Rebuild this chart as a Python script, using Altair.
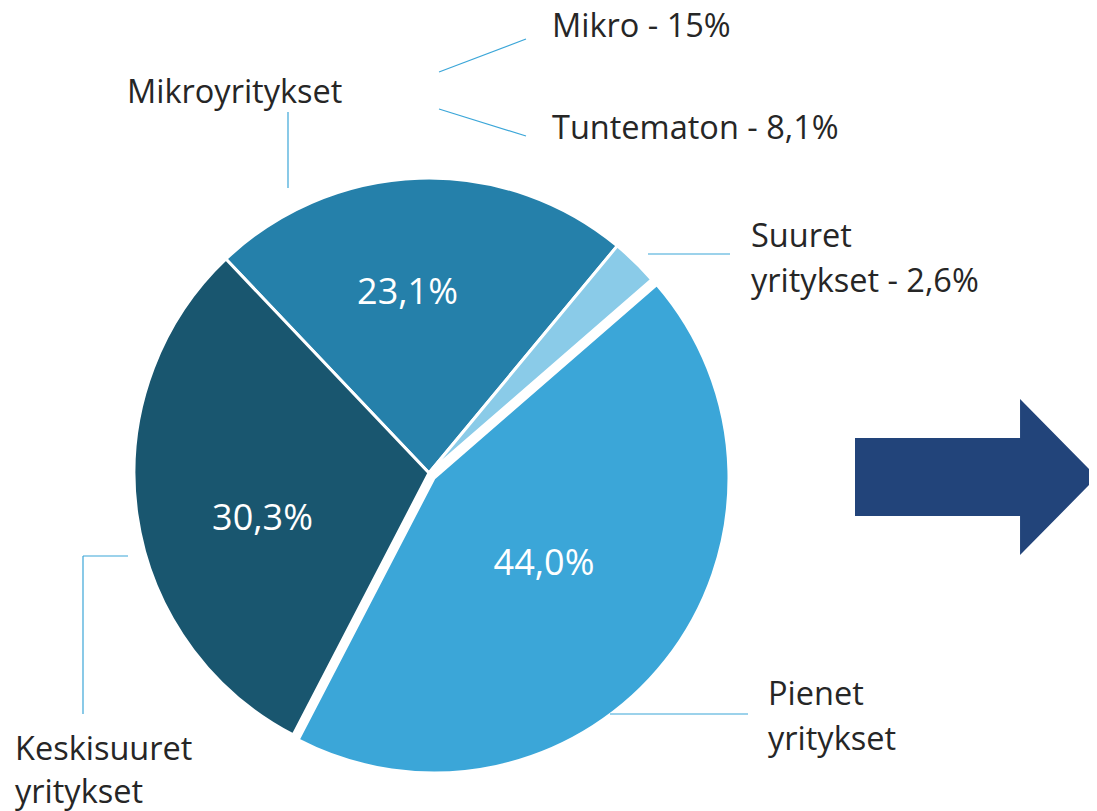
import math
import altair as alt
import pandas as pd

# ---- data ----
categories = ["Mikroyritykset", "Suuret yritykset", "Pienet yritykset", "Keskisuuret yritykset"]
values = [23.1, 2.6, 44.0, 30.3]
pct_labels = ["23,1%", "", "44,0%", "30,3%"]
slice_colors = ["#2580AA", "#8ACBE8", "#3BA6D8", "#19566F"]

side_texts = ["Mikro - 15%", "Tuntematon - 8,1%", "Mikroyritykset",
              "Suuret", "yritykset - 2,6%", "Pienet", "yritykset",
              "Keskisuuret", "yritykset"]

# ---- layout (page pixel coordinates) ----
OFF = 8
W, H = 1097 - 2 * OFF, 811 - OFF
CX, CY, R = 429, 473, 295
EXPLODE = {"Pienet yritykset": (5, 5)}
START = math.radians(-43.5)

side_pos = [(552, 37), (552, 139), (127, 103), (751, 247), (751, 292),
            (768, 705), (768, 750), (15, 760), (15, 803)]
pct_pos = [(407.5, 304), None, (544, 575), (262.5, 530)]
segments = [((439, 72), (526, 39)), ((439, 109), (526, 136)),
            ((288, 112), (288, 188)), ((648, 254), (730, 254)),
            ((128, 556), (83, 556)), ((83, 556), (83, 714)),
            ((610, 714), (748, 714))]
ARROW_CENTER = (976, 477)
ARROW_W = 242
ARROW_PATH = ("M-1,-0.322 L0.364,-0.322 L0.364,-0.645 L1,0 "
              "L0.364,0.645 L0.364,0.322 L-1,0.322 Z")

# ---- tables ----
ends = pd.Series(values).cumsum()
pie = pd.DataFrame({
    "cat": categories,
    "value": values,
    "start": ends - pd.Series(values),
    "end": ends,
})

theta_scale = alt.Scale(domain=[0, 100], range=[START, START + 2 * math.pi])
color_scale = alt.Scale(domain=categories, range=slice_colors)

layers = []
for cat in categories:
    dx, dy = EXPLODE.get(cat, (0, 0))
    layers.append(
        alt.Chart(pie).transform_filter(alt.datum.cat == cat)
        .mark_arc(stroke="white", strokeWidth=3)
        .encode(
            theta=alt.Theta("start:Q", scale=theta_scale),
            theta2="end:Q",
            color=alt.Color("cat:N", scale=color_scale, legend=None),
            x=alt.value(CX + dx - OFF),
            y=alt.value(CY + dy - OFF),
            radius=alt.value(R),
        )
    )

seg_df = pd.DataFrame([
    {"x1": a[0] - OFF, "y1": a[1] - OFF, "x2": b[0] - OFF, "y2": b[1] - OFF}
    for a, b in segments
])
rules = alt.Chart(seg_df).mark_rule(color="#3BA6D8", strokeWidth=1.2).encode(
    x=alt.X("x1:Q", scale=None), y=alt.Y("y1:Q", scale=None),
    x2="x2:Q", y2="y2:Q",
)

side_df = pd.DataFrame({
    "t": side_texts,
    "x": [p[0] - OFF for p in side_pos],
    "y": [p[1] - OFF for p in side_pos],
})
side = alt.Chart(side_df).mark_text(
    font="Open Sans", fontSize=32.5, color="#262626", align="left", baseline="alphabetic"
).encode(x=alt.X("x:Q", scale=None), y=alt.Y("y:Q", scale=None), text="t:N")

pct_rows = [
    {"t": lab, "x": p[0] - OFF, "y": p[1] - OFF}
    for lab, p in zip(pct_labels, pct_pos) if p is not None
]
pct = alt.Chart(pd.DataFrame(pct_rows)).mark_text(
    font="Open Sans", fontSize=36, color="white", align="center", baseline="alphabetic"
).encode(x=alt.X("x:Q", scale=None), y=alt.Y("y:Q", scale=None), text="t:N")

arrow = alt.Chart(pd.DataFrame({"x": [ARROW_CENTER[0] - OFF], "y": [ARROW_CENTER[1] - OFF]})).mark_point(
    shape=ARROW_PATH, filled=True, opacity=1, color="#22447A", strokeWidth=0, size=ARROW_W ** 2
).encode(x=alt.X("x:Q", scale=None), y=alt.Y("y:Q", scale=None))

chart = alt.layer(*layers, rules, side, pct, arrow).properties(
    width=W, height=H, padding=0, background="white",
    autosize=alt.AutoSizeParams(type="none")
).configure_view(stroke=None)

chart.save("out.html", embed_options={"renderer": "svg", "actions": False})
